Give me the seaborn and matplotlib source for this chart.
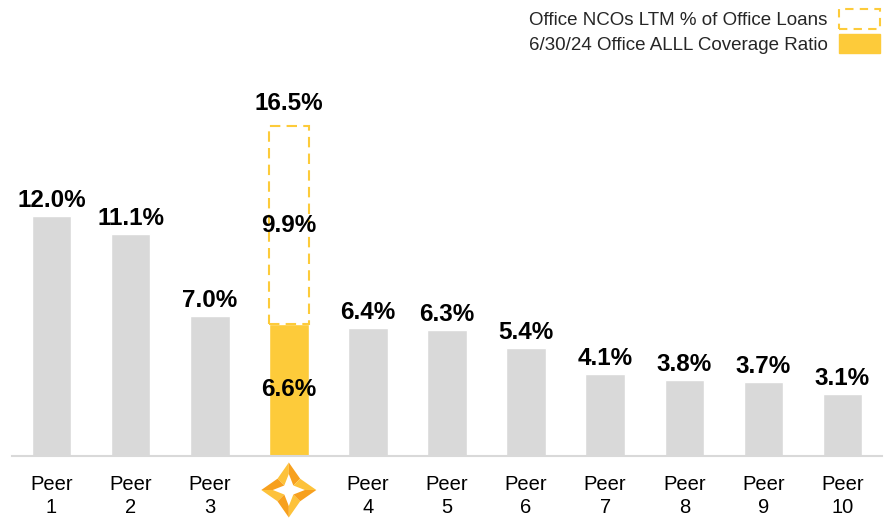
import numpy as np
import matplotlib.pyplot as plt
import seaborn as sns
from matplotlib.patches import Patch, Polygon

sns.set_theme(style="white")
plt.rcParams["font.family"] = ["Liberation Sans", "DejaVu Sans"]

# data
categories = ["Peer\n1", "Peer\n2", "Peer\n3", "", "Peer\n4", "Peer\n5",
              "Peer\n6", "Peer\n7", "Peer\n8", "Peer\n9", "Peer\n10"]
alll_coverage = [12.0, 11.1, 7.0, 6.6, 6.4, 6.3, 5.4, 4.1, 3.8, 3.7, 3.1]
company_idx = 3
company_ncos = 9.9

GRAY = "#D9D9D9"
YELLOW = "#FDCB3A"

colors = [YELLOW if i == company_idx else GRAY for i in range(len(categories))]

fig = plt.figure(figsize=(8.86, 5.19), dpi=100)
ax = fig.add_axes([12 / 886, 63 / 519, 870 / 886, 400 / 519])

sns.barplot(x=categories, y=alll_coverage, hue=categories, palette=colors,
            width=0.5, saturation=1, legend=False, ax=ax)

# NCOs stacked on top of the company's coverage bar, dashed outline only
ax.bar(company_idx, company_ncos, bottom=alll_coverage[company_idx], width=0.5,
       fill=False, edgecolor=YELLOW, linestyle=(0, (5, 3)), linewidth=1.5)

ax.set_xlim(-0.5, len(categories) - 0.5)
ax.set_ylim(0, 20)
ax.set_yticks([])
ax.set_xticks(range(len(categories)))
ax.set_xticklabels(categories, fontsize=14.5, color="black", linespacing=1.25)
ax.tick_params(axis="x", length=0, pad=14)
for side in ["top", "left", "right"]:
    ax.spines[side].set_visible(False)
ax.spines["bottom"].set_color(GRAY)
ax.spines["bottom"].set_linewidth(1.5)

lbl = dict(fontsize=17.5, fontweight="bold", color="black", ha="center")
for i, v in enumerate(alll_coverage):
    if i == company_idx:
        ax.text(i, v / 2, f"{v:.1f}%", va="center", **lbl)
    else:
        ax.annotate(f"{v:.1f}%", (i, v), xytext=(0, 3), textcoords="offset points",
                    va="bottom", **lbl)
base = alll_coverage[company_idx]
ax.text(company_idx, base + company_ncos / 2, f"{company_ncos:.1f}%", va="center", **lbl)
ax.annotate(f"{base + company_ncos:.1f}%", (company_idx, base + company_ncos),
            xytext=(0, 8), textcoords="offset points", va="bottom", **lbl)

handles = [Patch(facecolor="none", edgecolor=YELLOW, linestyle=(0, (4, 3)), linewidth=1.5),
           Patch(facecolor=YELLOW, edgecolor=YELLOW)]
fig.legend(handles, ["Office NCOs LTM % of Office Loans",
                     "6/30/24 Office ALLL Coverage Ratio"],
           loc="upper right", bbox_to_anchor=(1.004, 1.0), frameon=False,
           markerfirst=False, fontsize=13.5, handlelength=2.2, handleheight=1.2,
           labelspacing=0.25, borderpad=0, handletextpad=0.6)

# company logo under its bar: a twisted four-pointed star
lx = 12 + (company_idx + 0.5) * 870 / len(categories)
logo = fig.add_axes([(lx - 32) / 886, -3 / 519, 64 / 886, 64 / 519])
logo.set_xlim(-1, 1)
logo.set_ylim(-1, 1)
logo.set_aspect("equal")
logo.axis("off")
tip_r, notch_r = 0.86, 0.5
for k in range(4):
    a = np.pi / 2 * k + np.pi / 2
    tip = (tip_r * np.cos(a), tip_r * np.sin(a))
    n1 = (notch_r * np.cos(a + np.pi / 4), notch_r * np.sin(a + np.pi / 4))
    n2 = (notch_r * np.cos(a - np.pi / 4), notch_r * np.sin(a - np.pi / 4))
    logo.add_patch(Polygon([(0, 0), tip, n1], closed=True, color="#FDC23A", lw=0))
    logo.add_patch(Polygon([(0, 0), tip, n2], closed=True, color="#F7A01E", lw=0))
inner = []
for k in range(8):
    a = np.pi / 4 * k + np.pi / 2
    r = 0.5 if k % 2 == 0 else 0.2
    inner.append((r * np.cos(a), r * np.sin(a)))
logo.add_patch(Polygon(inner, closed=True, color="white", lw=0))

fig.savefig("out.png", dpi=100)
plt.close(fig)
